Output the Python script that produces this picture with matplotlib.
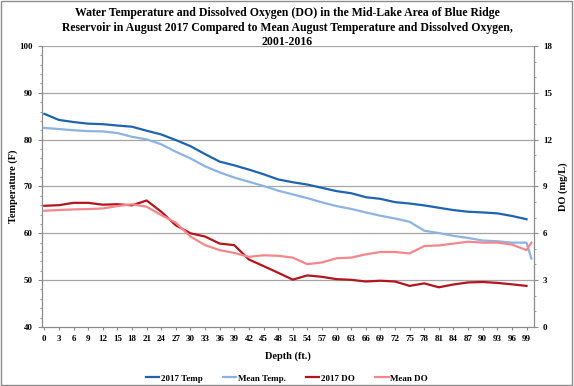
import matplotlib
matplotlib.use("Agg")
import matplotlib.pyplot as plt
from matplotlib.patches import Rectangle
from matplotlib.ticker import MultipleLocator

depth_2017 = list(range(0, 100, 3))
depth_mean = list(range(0, 100, 3)) + [100]

temp_2017 = [85.5, 84.2, 83.75, 83.4, 83.3, 83.0, 82.75, 81.9, 81.1, 79.9,
             78.6, 76.9, 75.3, 74.5, 73.6, 72.6, 71.5, 70.9, 70.4, 69.7,
             69.0, 68.55, 67.7, 67.35, 66.65, 66.35, 65.95, 65.45, 64.95, 64.6,
             64.45, 64.25, 63.7, 63.0]
temp_mean = [82.5, 82.25, 82.0, 81.8, 81.75, 81.4, 80.6, 80.05, 79.0, 77.4,
             76.0, 74.3, 73.0, 71.9, 71.0, 70.1, 69.1, 68.3, 67.5, 66.6,
             65.8, 65.2, 64.45, 63.75, 63.15, 62.45, 60.55, 60.05, 59.45, 59.0,
             58.45, 58.3, 58.0, 58.0, 54.6]
do_2017 = [7.76, 7.8, 7.95, 7.95, 7.83, 7.86, 7.79, 8.1, 7.38, 6.51,
           6.0, 5.79, 5.34, 5.24, 4.32, 3.9, 3.47, 3.03, 3.3, 3.21,
           3.06, 3.02, 2.91, 2.96, 2.91, 2.63, 2.79, 2.54, 2.72, 2.85,
           2.88, 2.82, 2.73, 2.63]
do_mean = [7.44, 7.49, 7.53, 7.55, 7.59, 7.74, 7.86, 7.7, 7.17, 6.68,
           5.79, 5.24, 4.92, 4.74, 4.49, 4.59, 4.56, 4.44, 4.02, 4.13,
           4.4, 4.44, 4.65, 4.8, 4.8, 4.71, 5.18, 5.22, 5.34, 5.46,
           5.4, 5.4, 5.28, 4.92, 5.4]

title = ("Water Temperature and Dissolved Oxygen (DO) in the Mid-Lake Area of Blue Ridge\n"
         "Reservoir in August 2017 Compared to Mean August Temperature and Dissolved Oxygen,\n"
         "2001-2016")

plt.rcParams['font.family'] = ['Liberation Serif', 'DejaVu Serif']
plt.rcParams['font.weight'] = 'bold'

c_t17 = '#1F64AE'
c_tm = '#8DB3E2'
c_do17 = '#B3151C'
c_dom = '#F4878C'
grid_c = '#A6A6A6'

fig = plt.figure(figsize=(5.74, 3.86), dpi=100)
fig.patches.append(Rectangle((0.002, 0.003), 0.995, 0.994, transform=fig.transFigure,
                             fill=False, edgecolor='#8C8C8C', linewidth=1.0))
ax = fig.add_axes([0.073, 0.153, 0.857, 0.728])
ax2 = ax.twinx()

ax.set_xlim(-0.5, 100.5)
ax.set_ylim(40, 100)
ax2.set_ylim(0, 18)
ax.set_yticks(range(40, 101, 10))
ax2.set_yticks(range(0, 19, 3))
ax.yaxis.set_minor_locator(MultipleLocator(2))
ax2.yaxis.set_minor_locator(MultipleLocator(1))
ax.set_xticks(depth_2017)
ax.xaxis.set_minor_locator(MultipleLocator(1))

for y in range(50, 101, 10):
    ax.axhline(y, color=grid_c, linewidth=0.9, zorder=0)

l1, = ax.plot(depth_2017, temp_2017, color=c_t17, linewidth=1.6, label='2017 Temp')
l2, = ax.plot(depth_mean, temp_mean, color=c_tm, linewidth=1.6, label='Mean Temp.')
l3, = ax2.plot(depth_2017, do_2017, color=c_do17, linewidth=1.6, label='2017 DO')
l4, = ax2.plot(depth_mean, do_mean, color=c_dom, linewidth=1.6, label='Mean DO')

for a in (ax, ax2):
    a.spines['top'].set_visible(False)
    for s in ('left', 'right', 'bottom'):
        a.spines[s].set_color('#8C8C8C')
        a.spines[s].set_linewidth(0.9)
    a.tick_params(which='both', colors='#8C8C8C', labelcolor='black', labelsize=6.5)
    a.tick_params(which='major', length=3)
    a.tick_params(which='minor', length=1.5)
ax.tick_params(axis='x', which='minor', length=0)
ax.tick_params(axis='x', which='major', length=2)
ax.spines['right'].set_visible(False)
ax2.spines['left'].set_visible(False)
ax2.spines['bottom'].set_visible(False)

for lbl in ax.get_xticklabels() + ax.get_yticklabels() + ax2.get_yticklabels():
    lbl.set_fontweight('bold')

ax.set_xlabel('Depth (ft.)', fontsize=7.5, fontweight='bold', labelpad=6)
ax.set_ylabel('Temperature (F)', fontsize=7.5, fontweight='bold', labelpad=1)
ax2.set_ylabel('DO (mg/L)', fontsize=7.5, fontweight='bold', labelpad=5)

fig.suptitle(title, fontsize=8.5, fontweight='bold', y=0.982, linespacing=1.3)

fig.legend(handles=[l1, l2, l3, l4], loc='lower center', bbox_to_anchor=(0.5, -0.012),
           ncol=4, frameon=False, handlelength=1.5, handletextpad=0.2,
           columnspacing=2.2, prop={'weight': 'bold', 'size': 6.5})

fig.savefig('out.png', dpi=100)
